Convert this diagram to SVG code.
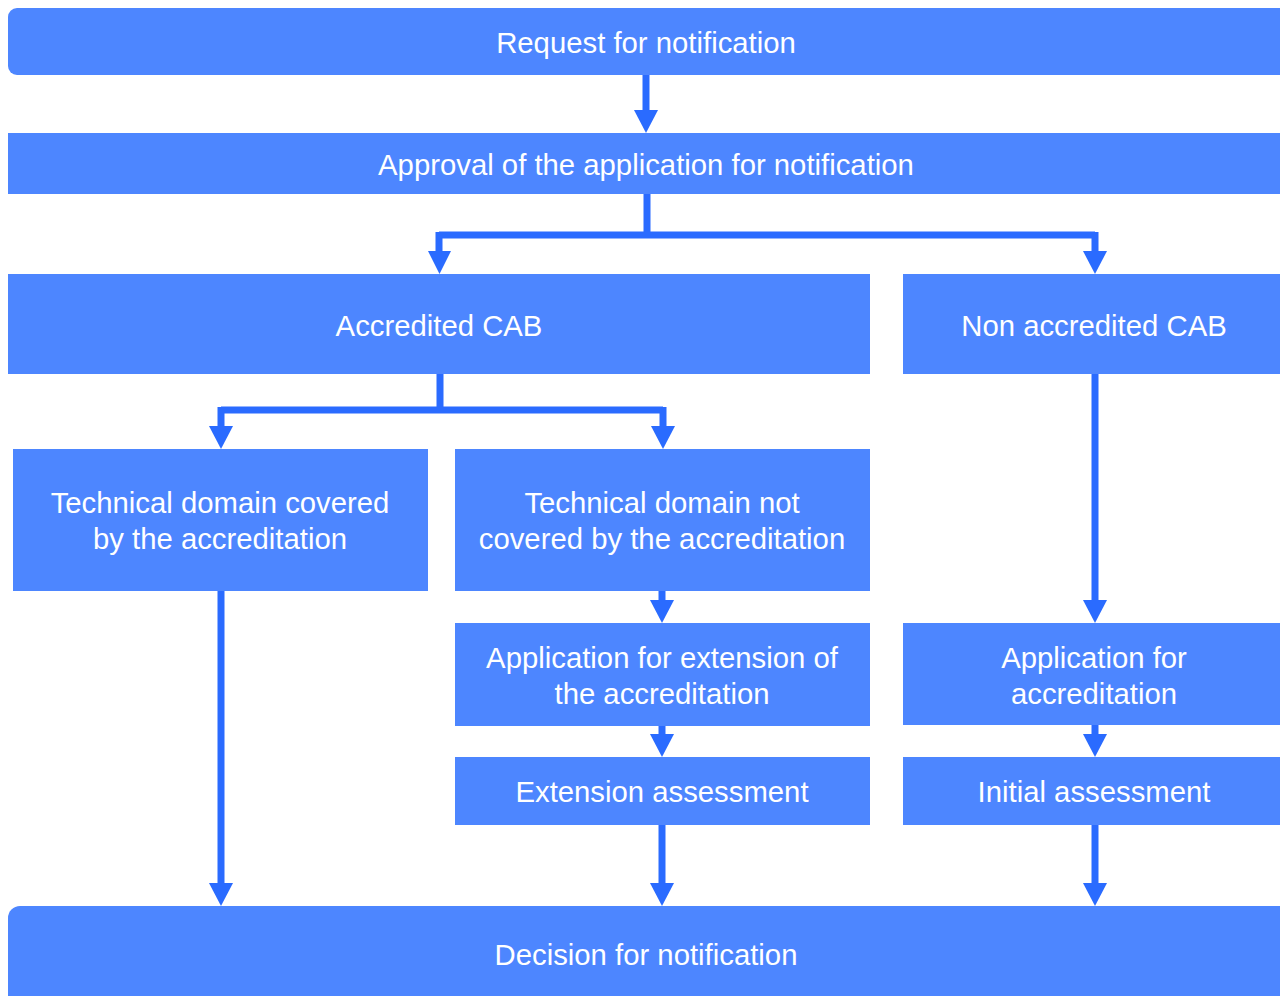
<svg xmlns="http://www.w3.org/2000/svg" width="1280" height="996" viewBox="0 0 1280 996">
<style>
.box{fill:#4d86ff;}
.t{font-family:"Liberation Sans",Arial,sans-serif;font-size:29.3px;fill:#ffffff;text-anchor:middle;dominant-baseline:central;}
.c{stroke:#2a6bff;stroke-width:7;fill:none;}
.ah{fill:#2a6bff;}
</style>
<rect width="1280" height="996" fill="#ffffff"/>
<g id="request"><rect class="box" x="8" y="8" width="1290" height="67" rx="9"/><text class="t" x="646" y="42">Request for notification</text></g>
<g id="approval"><rect class="box" x="8" y="133" width="1290" height="61"/><text class="t" x="646" y="164">Approval of the application for notification</text></g>
<g id="accredited"><rect class="box" x="8" y="274" width="862" height="100"/><text class="t" x="439" y="325">Accredited CAB</text></g>
<g id="nonaccredited"><rect class="box" x="903" y="274" width="390" height="100"/><text class="t" x="1094" y="325">Non accredited CAB</text></g>
<g id="covered"><rect class="box" x="13" y="449" width="415" height="142"/><text class="t" x="220" y="502">Technical domain covered</text><text class="t" x="220" y="538">by the accreditation</text></g>
<g id="notcovered"><rect class="box" x="455" y="449" width="415" height="142"/><text class="t" x="662" y="502">Technical domain not</text><text class="t" x="662" y="538">covered by the accreditation</text></g>
<g id="extapp"><rect class="box" x="455" y="623" width="415" height="103"/><text class="t" x="662" y="657">Application for extension of</text><text class="t" x="662" y="693">the accreditation</text></g>
<g id="extassess"><rect class="box" x="455" y="757" width="415" height="68"/><text class="t" x="662" y="791">Extension assessment</text></g>
<g id="accapp"><rect class="box" x="903" y="623" width="390" height="102"/><text class="t" x="1094" y="657">Application for</text><text class="t" x="1094" y="693">accreditation</text></g>
<g id="initassess"><rect class="box" x="903" y="757" width="390" height="68"/><text class="t" x="1094" y="791">Initial assessment</text></g>
<g id="decision"><rect class="box" x="8" y="906" width="1290" height="110" rx="12"/><text class="t" x="646" y="954">Decision for notification</text></g>
<g id="connectors">
<path class="c" d="M646 75 V112"/>
<path class="c" d="M647 194 V235 M439 235 H1095 M439 232 V252 M1095 232 V252"/>
<path class="c" d="M440 374 V410 M221 410 H663 M221 407 V427 M663 407 V427"/>
<path class="c" d="M221 591 V885"/>
<path class="c" d="M662 591 V602"/>
<path class="c" d="M662 726 V736"/>
<path class="c" d="M662 825 V885"/>
<path class="c" d="M1095 374 V602"/>
<path class="c" d="M1095 725 V736"/>
<path class="c" d="M1095 825 V885"/>
<polygon class="ah" points="634,110 658,110 646,133"/>
<polygon class="ah" points="428,251 451,251 439.5,274"/>
<polygon class="ah" points="1083,251 1107,251 1095,274"/>
<polygon class="ah" points="209,426 233,426 221,449"/>
<polygon class="ah" points="651,426 675,426 663,449"/>
<polygon class="ah" points="209,883 233,883 221,906"/>
<polygon class="ah" points="650,600 674,600 662,623"/>
<polygon class="ah" points="650,734 674,734 662,757"/>
<polygon class="ah" points="650,883 674,883 662,906"/>
<polygon class="ah" points="1083,600 1107,600 1095,623"/>
<polygon class="ah" points="1083,734 1107,734 1095,757"/>
<polygon class="ah" points="1083,883 1107,883 1095,906"/>
</g>
</svg>
